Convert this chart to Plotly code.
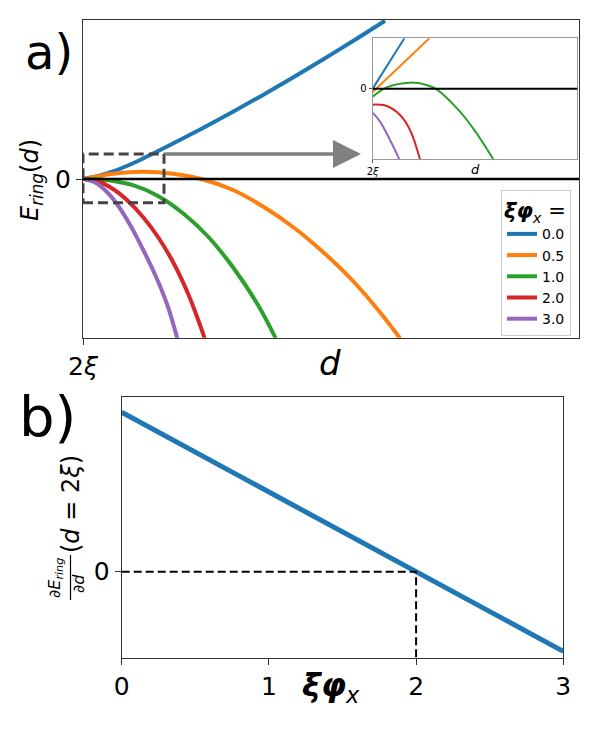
import plotly.graph_objects as go

# colours (matplotlib tab10)
COLORS = ['#1f77b4', '#ff7f0e', '#2ca02c', '#d62728', '#9467bd']
PHI_LABELS = ['0.0', '0.5', '1.0', '2.0', '3.0']

blue_x = [0, 0.15, 0.3, 0.45, 0.6, 0.9, 1.2, 1.5, 1.8, 2.1, 2.4, 2.7, 3.02]
blue_y = [0, 0.03, 0.075, 0.135, 0.205, 0.355, 0.511, 0.673, 0.841, 1.015, 1.195, 1.38, 1.583]
orange_x = [0, 0.3, 0.6, 0.9, 1.2, 1.5, 1.8, 2.1, 2.4, 2.7, 3.0, 3.17]
orange_y = [0, 0.053, 0.072, 0.052, -0.005, -0.11, -0.275, -0.48, -0.73, -1.02, -1.37, -1.593]
green_x = [0, 0.25, 0.5, 0.75, 1.0, 1.25, 1.5, 1.75, 1.927]
green_y = [0, -0.012, -0.062, -0.17, -0.343, -0.575, -0.883, -1.26, -1.593]
red_x = [0, 0.15, 0.3, 0.45, 0.6, 0.75, 0.9, 1.05, 1.15, 1.217]
red_y = [0, -0.025, -0.10, -0.22, -0.38, -0.58, -0.83, -1.145, -1.405, -1.593]
purple_x = [0, 0.12, 0.24, 0.36, 0.48, 0.6, 0.72, 0.84, 0.943]
purple_y = [0, -0.035, -0.13, -0.28, -0.475, -0.705, -0.955, -1.25, -1.593]

# inset (zoom of the dashed box)
in_blue_x = [0, 0.95]
in_blue_y = [0, 1.51]
in_orange_x = [0, 1.70]
in_orange_y = [-0.10, 1.51]
in_green_x = [0, 0.42, 1.12, 1.62, 1.92, 2.62, 3.12, 3.62]
in_green_y = [-0.24, 0.04, 0.18, 0.11, -0.02, -0.69, -1.34, -2.12]
in_red_x = [0, 0.42, 0.82, 1.12, 1.42]
in_red_y = [-0.48, -0.52, -0.79, -1.24, -2.12]
in_purple_x = [0, 0.22, 0.52, 0.80]
in_purple_y = [-0.72, -0.99, -1.54, -2.12]

# panel b: dE_ring/dd at d = 2xi vs xi*phi_x
phi_x = [0, 3]
slope_y = [2, -1]
root_x = 2

FONT = 'DejaVu Sans'
W, H = 600, 730


def px(x):
    return x / W


def py(y):
    return (H - y) / H


fig = go.Figure()

main_curves = [(blue_x, blue_y), (orange_x, orange_y), (green_x, green_y),
               (red_x, red_y), (purple_x, purple_y)]
for (xs, ys), c, name in zip(main_curves, COLORS, PHI_LABELS):
    fig.add_trace(go.Scatter(x=xs, y=ys, mode='lines', name=name,
                             line=dict(color=c, width=4, shape='spline'),
                             xaxis='x', yaxis='y'))

inset_curves = [(in_blue_x, in_blue_y), (in_orange_x, in_orange_y),
                (in_green_x, in_green_y), (in_red_x, in_red_y),
                (in_purple_x, in_purple_y)]
for (xs, ys), c in zip(inset_curves, COLORS):
    fig.add_trace(go.Scatter(x=xs, y=ys, mode='lines', showlegend=False,
                             line=dict(color=c, width=2, shape='spline'),
                             xaxis='x3', yaxis='y3'))

YB_RANGE = [-1.087, 2.196]
fig.add_trace(go.Scatter(x=phi_x, y=slope_y, mode='lines', showlegend=False,
                         line=dict(color=COLORS[0], width=5),
                         xaxis='x2', yaxis='y2'))
fig.add_trace(go.Scatter(x=[0, root_x, root_x], y=[0, 0, YB_RANGE[0]],
                         mode='lines', showlegend=False,
                         line=dict(color='black', width=2, dash='8px,4px'),
                         xaxis='x2', yaxis='y2'))

axis_common = dict(showline=True, mirror=True, linecolor='#333', linewidth=1.3,
                   showgrid=False, zeroline=False, ticks='outside', ticklen=6,
                   tickcolor='#333', automargin=False,
                   tickfont=dict(family=FONT, size=25, color='black'))

inset_axis = dict(showline=True, mirror=True, linecolor='#999', linewidth=1,
                  showgrid=False, zeroline=False, ticks='outside', ticklen=3,
                  tickcolor='#555', automargin=False,
                  tickfont=dict(family=FONT, size=10, color='black'))

fig.update_layout(
    width=W, height=H, autosize=False,
    margin=dict(l=0, r=0, t=0, b=0, pad=0),
    paper_bgcolor='white', plot_bgcolor='white',
    font=dict(family=FONT, color='black'),
    xaxis=dict(axis_common, domain=[px(83), px(579)], range=[0, 4.96],
               tickvals=[0], ticktext=['2<i>ξ</i>'], anchor='y'),
    yaxis=dict(axis_common, domain=[py(337.7), py(20)], range=[-1.587, 1.59],
               tickvals=[0], ticktext=['0'], anchor='x'),
    xaxis2=dict(axis_common, domain=[px(121.7), px(563.3)], range=[0, 3],
                tickvals=[0, 1, 2, 3], anchor='y2'),
    yaxis2=dict(axis_common, domain=[py(658.3), py(396.7)], range=YB_RANGE,
                tickvals=[0], ticktext=['0'], anchor='x2'),
    xaxis3=dict(inset_axis, domain=[px(372.7), px(577.3)], range=[0, 6.14],
                tickvals=[0], ticktext=['2<i>ξ</i>'], anchor='y3'),
    yaxis3=dict(inset_axis, domain=[py(159.3), py(38.3)], range=[-2.12, 1.51],
                tickvals=[0], ticktext=['0'], anchor='x3'),
    legend=dict(x=px(501), y=py(190), xanchor='left', yanchor='top',
                bgcolor='white', bordercolor='#ccc', borderwidth=1,
                font=dict(family=FONT, size=14),
                title=dict(text='<b><i>ξφ</i></b><sub><i>x</i></sub> =',
                           font=dict(family=FONT, size=21), side='top'),
                tracegroupgap=0, itemwidth=30),
)

# zero lines
fig.add_shape(type='line', xref='x domain', yref='y', x0=0, x1=1, y0=0, y1=0,
              line=dict(color='black', width=2.5))
fig.add_shape(type='line', xref='x3 domain', yref='y3', x0=0, x1=1, y0=0, y1=0,
              line=dict(color='black', width=2))

# dashed zoom box and arrow to the inset
BOX_X = [0, 0.81]
BOX_Y = [-0.237, 0.25]
fig.add_shape(type='rect', xref='x', yref='y', x0=BOX_X[0], x1=BOX_X[1],
              y0=BOX_Y[0], y1=BOX_Y[1],
              line=dict(color='#444', width=3, dash='10px,5px'))
fig.add_annotation(x=2.78, y=BOX_Y[1], ax=BOX_X[1], ay=BOX_Y[1], xref='x', yref='y',
                   axref='x', ayref='y', text='', showarrow=True,
                   arrowhead=2, arrowsize=1.6, arrowwidth=3.5, arrowcolor='#808080')

# labels
notes = [
    (px(49), py(52), 'a)', 48, 0),
    (px(47), py(417), 'b)', 56, 0),
    (px(31), py(180), '<i>E</i><sub><i>ring</i></sub>(<i>d</i>)', 24, -90),
    (px(330), py(363), '<i>d</i>', 34, 0),
    (px(331), py(687), '<b><i>ξφ</i></b><sub><i>x</i></sub>', 32, 0),
    (px(475), py(169), '<i>d</i>', 13, 0),
    (px(55), py(578), '∂<i>E</i><sub><i>ring</i></sub>', 16, -90),
    (px(78), py(584), '∂<i>d</i>', 16, -90),
    (px(71), py(504), '(<i>d</i> = 2<i>ξ</i>)', 24, -90),
]
for x, y, t, s, ang in notes:
    fig.add_annotation(x=x, y=y, xref='paper', yref='paper', text=t, showarrow=False,
                       textangle=ang, xanchor='center', yanchor='middle',
                       font=dict(family=FONT, size=s, color='black'))

# fraction bar of the panel b label
fig.add_shape(type='line', xref='paper', yref='paper', x0=px(70.5), x1=px(70.5),
              y0=py(600), y1=py(555), line=dict(color='black', width=1.2))

fig.write_html('out.html', config={'displayModeBar': False},
               post_script="document.body.style.margin='0';"
                           "document.body.style.overflow='hidden';")
